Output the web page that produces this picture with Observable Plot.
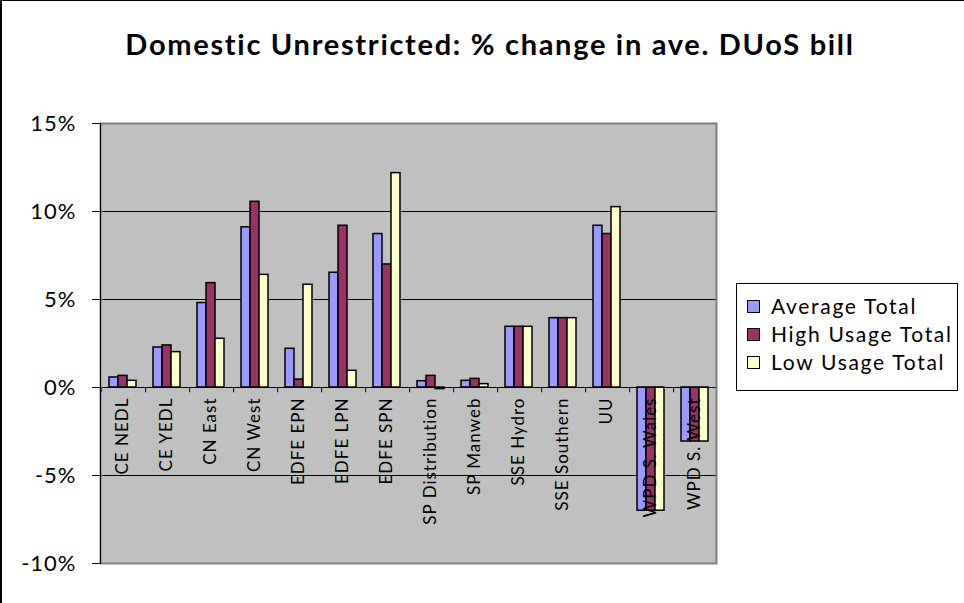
<!DOCTYPE html>
<html><head><meta charset="utf-8">
<script src="https://cdn.jsdelivr.net/npm/d3@7"></script>
<script src="https://cdn.jsdelivr.net/npm/@observablehq/plot@0.6"></script>
<style>
body{margin:0;background:#fff;font-family:Lato,sans-serif}
#wrap{position:relative;width:964px;height:603px;overflow:hidden;background:#fff}
#edge{position:absolute;left:0;top:0;width:964px;height:603px;box-sizing:border-box;border-left:2px solid #000;border-top:1px solid #000;pointer-events:none}
#title{position:absolute;left:8px;width:964px;top:25px;text-align:center;font-weight:bold;font-size:29px;letter-spacing:1.7px;line-height:38px;color:#000}
#chart{position:absolute;left:0;top:0}
#chart g[aria-label="text"] text{letter-spacing:1px}
#chart g[aria-label="y-axis tick label"] text{letter-spacing:1px}
#legend{position:absolute;left:736px;top:283px;width:222px;height:108px;border:1px solid #000;box-sizing:border-box;background:#fff;padding-top:8px}
.item{height:28px;line-height:28px;font-size:21px;letter-spacing:1.7px;white-space:nowrap;color:#000}
.sw{display:inline-block;width:11px;height:11px;border:1px solid #000;margin-left:10px;margin-right:11px;vertical-align:middle;position:relative;top:-2px}
</style></head>
<body>
<div id="wrap">
  <div id="chart"></div>
  <div id="title"></div>
  <div id="legend"></div>
  <div id="edge"></div>
</div>
<script>
const titleText = "Domestic Unrestricted: % change in ave. DUoS bill";
const categories = ["CE NEDL","CE YEDL","CN East","CN West","EDFE EPN","EDFE LPN","EDFE SPN","SP Distribution","SP Manweb","SSE Hydro","SSE Southern","UU","WPD S. Wales","WPD S. West"];
const seriesNames = ["Average Total","High Usage Total","Low Usage Total"];
const seriesColors = ["#9999FF","#993366","#FFFFCC"];
const averageTotal = [0.57,2.27,4.8,9.1,2.2,6.52,8.72,0.36,0.38,3.45,3.94,9.19,-7.0,-3.07];
const highUsageTotal = [0.66,2.39,5.93,10.55,0.45,9.19,6.99,0.66,0.49,3.45,3.94,8.72,-7.0,-3.07];
const lowUsageTotal = [0.38,2.01,2.77,6.4,5.84,0.95,12.18,-0.09,0.19,3.45,3.94,10.25,-7.0,-3.07];
const yTicks = [-10,-5,0,5,10,15];

const seriesValues = [averageTotal, highUsageTotal, lowUsageTotal];
const rows = [];
categories.forEach((c, i) => seriesNames.forEach((s, j) => rows.push({category: c, series: s, value: seriesValues[j][i]})));

const W = 964, H = 603, mL = 97, mR = 245, mT = 123, mB = 40;
const facetW = (W - mL - mR) / categories.length;
const step = facetW / (seriesNames.length + 1.5);

const chart = Plot.plot({
  width: W, height: H,
  marginTop: mT, marginBottom: mB, marginLeft: mL, marginRight: mR,
  style: {fontFamily: "Lato, sans-serif", fontSize: "22px", background: "transparent", color: "#000"},
  fx: {domain: categories, padding: 0, axis: null, label: null},
  x: {domain: seriesNames, paddingInner: 0, paddingOuter: 0.75, axis: null},
  y: {domain: [-10, 15], ticks: yTicks, tickFormat: d => d + "%", tickSize: 8, tickPadding: 16, label: null},
  color: {domain: seriesNames, range: seriesColors},
  marks: [
    Plot.frame({facet: "super", fill: "#c0c0c0"}),
    Plot.ruleY(yTicks, {stroke: "#000", strokeWidth: 1}),
    Plot.barY(rows, {fx: "category", x: "series", y: "value", fill: "series", stroke: "#000", strokeWidth: 1.5}),
    Plot.ruleY([0], {stroke: "#000", strokeWidth: 1}),
    Plot.ruleX(categories, {fx: d => d, x: () => seriesNames[0], y1: () => 0, y2: () => -0.3, dx: -1.25 * step, stroke: "#000"}),
    Plot.text(categories, {fx: d => d, y: () => 0, text: d => d, rotate: -90, textAnchor: "end", frameAnchor: "middle", dy: 10, fontSize: 17, fill: "#000"}),
    Plot.frame({facet: "super", stroke: "#808080", strokeWidth: 2}),
    Plot.frame({facet: "super", anchor: "left", stroke: "#000", strokeWidth: 1})
  ]
});
document.getElementById("chart").appendChild(chart);
document.getElementById("title").textContent = titleText;
const lg = document.getElementById("legend");
seriesNames.forEach((s, i) => {
  const d = document.createElement("div");
  d.className = "item";
  d.innerHTML = `<span class="sw" style="background:${seriesColors[i]}"></span>${s}`;
  lg.appendChild(d);
});
</script>
</body></html>
